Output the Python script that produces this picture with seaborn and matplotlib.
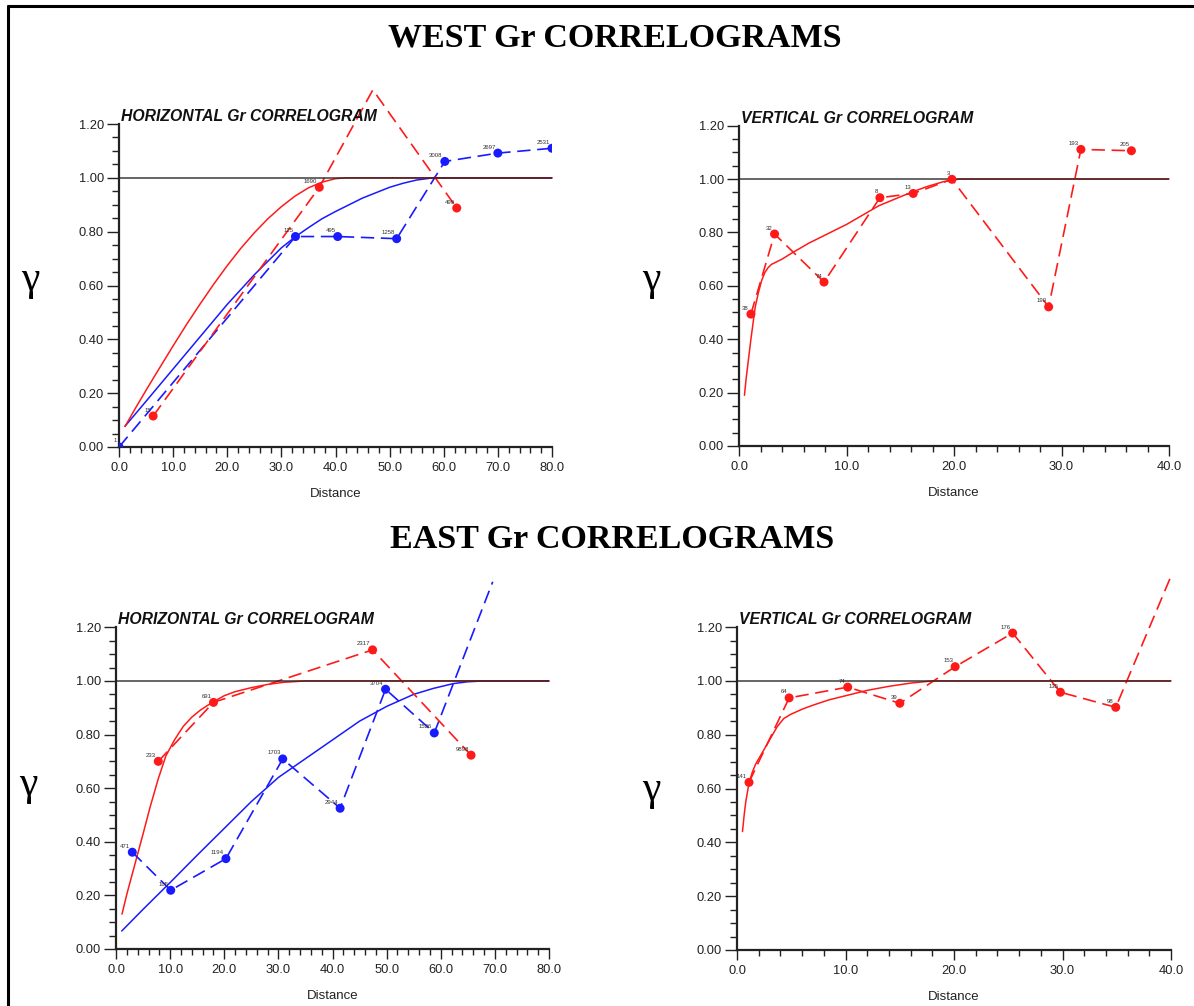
import numpy as np
import pandas as pd
import matplotlib
matplotlib.use("Agg")
import matplotlib.pyplot as plt
import seaborn as sns
from matplotlib.ticker import MultipleLocator, FormatStrFormatter
from matplotlib.lines import Line2D

# ---------------- data ----------------
# WEST - horizontal
wh_red_x = [6.3, 37.0, 46.9, 62.4]
wh_red_y = [0.115, 0.965, 1.327, 0.888]
wh_red_lab = ["15", "1690", "", "499"]
wh_blue_x = [0.0, 32.6, 40.4, 51.3, 60.2, 70.0, 80.0]
wh_blue_y = [0.0, 0.782, 0.782, 0.774, 1.061, 1.092, 1.110]
wh_blue_lab = ["1", "125", "495", "1258", "3008", "2697", "2531"]
wh_red_fit_x = [1.1, 3, 5, 7.5, 10, 12.5, 15, 17.5, 20, 22.5, 25, 27.5, 30, 32.5,
                35, 37.5, 40, 42, 80]
wh_red_fit_y = [0.076, 0.143, 0.211, 0.294, 0.376, 0.456, 0.532, 0.605, 0.674, 0.738,
                0.796, 0.848, 0.893, 0.932, 0.963, 0.984, 0.997, 1.0, 1.0]
wh_blue_fit_x = [1.1, 5, 10, 15, 20, 25, 30, 32.5, 35, 37.5, 40, 42.5, 45, 47.5,
                 50, 52.5, 55, 58, 80]
wh_blue_fit_y = [0.077, 0.17, 0.29, 0.41, 0.53, 0.64, 0.74, 0.78, 0.815, 0.848, 0.875,
                 0.90, 0.925, 0.945, 0.965, 0.98, 0.992, 1.0, 1.0]

# WEST - vertical
wv_red_x = [1.1, 3.3, 7.9, 13.1, 16.2, 19.8, 28.8, 31.8, 36.5]
wv_red_y = [0.494, 0.794, 0.614, 0.930, 0.946, 0.999, 0.521, 1.111, 1.106]
wv_red_lab = ["38", "32", "74", "8", "13", "3", "190", "193", "205"]
wv_fit_x = [0.5, 0.65, 0.8, 0.95, 1.1, 1.3, 1.5, 1.8, 2.1, 2.4, 2.7, 3.0, 4, 5, 6.5,
            8, 10, 11.5, 13, 14.5, 16, 17.5, 19, 20.5, 40]
wv_fit_y = [0.19, 0.25, 0.30, 0.35, 0.40, 0.46, 0.52, 0.575, 0.62, 0.65, 0.668, 0.68,
            0.70, 0.725, 0.76, 0.79, 0.83, 0.865, 0.90, 0.925, 0.95, 0.972, 0.99, 1.0, 1.0]

# EAST - horizontal
eh_red_x = [7.8, 18.0, 47.4, 65.6]
eh_red_y = [0.700, 0.920, 1.116, 0.723]
eh_red_lab = ["233", "691", "2317", "9898"]
eh_blue_x = [3.0, 10.1, 20.3, 30.8, 41.4, 49.8, 58.8, 69.6]
eh_blue_y = [0.361, 0.219, 0.337, 0.709, 0.525, 0.969, 0.806, 1.37]
eh_blue_lab = ["471", "105", "1194", "1703", "2944", "3704", "1526", ""]
eh_red_fit_x = [1.1, 2, 3, 4, 5, 6.3, 7.8, 9.2, 10.8, 12.4, 14, 15.5, 17, 18.5, 20,
                22, 25, 28, 31, 35, 80]
eh_red_fit_y = [0.13, 0.205, 0.28, 0.355, 0.43, 0.53, 0.635, 0.72, 0.78, 0.83, 0.865,
                0.89, 0.91, 0.928, 0.945, 0.96, 0.975, 0.987, 0.995, 1.0, 1.0]
eh_blue_fit_x = [1.05, 5, 10, 15, 20, 25, 30, 35, 40, 45, 50, 55, 58.6, 62.3, 65, 68, 80]
eh_blue_fit_y = [0.067, 0.148, 0.248, 0.35, 0.45, 0.55, 0.64, 0.71, 0.78, 0.85, 0.905,
                 0.95, 0.972, 0.99, 0.997, 1.0, 1.0]

# EAST - vertical
ev_red_x = [1.1, 4.8, 10.2, 15.0, 20.1, 25.4, 29.8, 34.9, 40.0]
ev_red_y = [0.623, 0.937, 0.977, 0.917, 1.053, 1.178, 0.958, 0.902, 1.39]
ev_red_lab = ["141", "64", "74", "39", "153", "176", "135", "98", ""]
ev_fit_x = [0.5, 0.65, 0.8, 1.1, 1.4, 1.7, 2.2, 2.7, 3.2, 3.7, 4.3, 4.9, 6, 7, 8.5,
            10, 12, 14, 16, 18, 40]
ev_fit_y = [0.44, 0.50, 0.55, 0.62, 0.66, 0.69, 0.725, 0.76, 0.795, 0.83, 0.86, 0.875,
            0.895, 0.91, 0.93, 0.945, 0.965, 0.98, 0.992, 1.0, 1.0]

RED = "#ff1a1a"
BLUE = "#1a1aff"
DASH = (0, (8.0, 4.0))

sns.set_style("ticks")
plt.rcParams["font.family"] = ["Liberation Sans", "DejaVu Sans"]

fig = plt.figure(figsize=(11.94, 10.06), dpi=100)


def make_axes(rect, xmax, title):
    ax = fig.add_axes(rect)
    ax.set_xlim(0, xmax)
    ax.set_ylim(0, 1.2)
    for s in ["top", "right"]:
        ax.spines[s].set_visible(False)
    for s in ["left", "bottom"]:
        ax.spines[s].set_linewidth(1.6)
        ax.spines[s].set_color("#222222")
    ax.xaxis.set_major_locator(MultipleLocator(10))
    ax.xaxis.set_minor_locator(MultipleLocator(2))
    ax.yaxis.set_major_locator(MultipleLocator(0.2))
    ax.yaxis.set_minor_locator(MultipleLocator(0.05))
    ax.xaxis.set_major_formatter(FormatStrFormatter("%.1f"))
    ax.yaxis.set_major_formatter(FormatStrFormatter("%.2f"))
    ax.tick_params(axis="y", which="major", length=9, width=1.0, direction="out",
                   pad=2, labelsize=9.3, colors="#222222", left=True)
    ax.tick_params(axis="y", which="minor", length=5, width=1.0, direction="out", left=True,
                   colors="#222222")
    ax.tick_params(axis="x", which="major", length=7, width=1.0, direction="out",
                   pad=4, labelsize=9.3, colors="#222222", bottom=True)
    ax.tick_params(axis="x", which="minor", length=4, width=1.0, direction="out", bottom=True,
                   colors="#222222")
    ax.text(0.004, 1.0, title, transform=ax.transAxes, ha="left", va="bottom",
            fontsize=11.3, fontweight="bold", fontstyle="italic", color="#111111")
    return ax


def draw_fit(ax, xs, ys, color):
    sns.lineplot(x=xs, y=ys, ax=ax, color=color, linewidth=1.1, sort=False,
                 estimator=None, clip_on=False)


def draw_exp(ax, xs, ys, labs, color):
    sns.lineplot(x=xs, y=ys, ax=ax, color=color, linewidth=1.2, sort=False,
                 estimator=None, linestyle=DASH, clip_on=False)
    sns.scatterplot(x=xs, y=ys, ax=ax, color=color, s=42, edgecolor="none", zorder=5)
    for x, y, lab in zip(xs, ys, labs):
        if lab and y <= 1.2:
            ax.annotate(lab, (x, y), xytext=(-1.5, 2.5), textcoords="offset points",
                        ha="right", va="bottom", fontsize=4.3, color="#333333")


def finish(ax):
    ax.axhline(1.0, color="#222222", linewidth=1.3, alpha=0.75, zorder=4)
    ax.set_xlabel("Distance", fontsize=9.5, labelpad=10, color="#222222")
    ax.set_ylabel("")


# WEST horizontal
ax1 = make_axes([0.0997, 0.5557, 0.3626, 0.3210], 80, "HORIZONTAL Gr CORRELOGRAM")
draw_fit(ax1, wh_blue_fit_x, wh_blue_fit_y, BLUE)
draw_fit(ax1, wh_red_fit_x, wh_red_fit_y, RED)
draw_exp(ax1, wh_blue_x, wh_blue_y, wh_blue_lab, BLUE)
draw_exp(ax1, wh_red_x, wh_red_y, wh_red_lab, RED)
finish(ax1)

# WEST vertical
ax2 = make_axes([0.6190, 0.5567, 0.3601, 0.3184], 40, "VERTICAL Gr CORRELOGRAM")
draw_fit(ax2, wv_fit_x, wv_fit_y, RED)
draw_exp(ax2, wv_red_x, wv_red_y, wv_red_lab, RED)
finish(ax2)

# EAST horizontal
ax3 = make_axes([0.0972, 0.0567, 0.3626, 0.3197], 80, "HORIZONTAL Gr CORRELOGRAM")
draw_fit(ax3, eh_blue_fit_x, eh_blue_fit_y, BLUE)
draw_fit(ax3, eh_red_fit_x, eh_red_fit_y, RED)
draw_exp(ax3, eh_blue_x, eh_blue_y, eh_blue_lab, BLUE)
draw_exp(ax3, eh_red_x, eh_red_y, eh_red_lab, RED)
finish(ax3)

# EAST vertical
ax4 = make_axes([0.6173, 0.0557, 0.3635, 0.3209], 40, "VERTICAL Gr CORRELOGRAM")
draw_fit(ax4, ev_fit_x, ev_fit_y, RED)
draw_exp(ax4, ev_red_x, ev_red_y, ev_red_lab, RED)
finish(ax4)

# headings
fig.text(0.515, 1 - 38 / 1006, "WEST Gr CORRELOGRAMS", ha="center", va="center",
         fontsize=24.5, fontweight="bold", family="Liberation Serif", color="black")
fig.text(0.513, 1 - 540 / 1006, "EAST Gr CORRELOGRAMS", ha="center", va="center",
         fontsize=24.5, fontweight="bold", family="Liberation Serif", color="black")

# gamma labels
for gx, gy in [(30, 280), (651, 280), (28, 785), (651, 790)]:
    fig.text(gx / 1194, 1 - gy / 1006, "γ", ha="center", va="center",
             fontsize=30, family="Liberation Serif", color="black")

# frame (left and top edges)
fig.add_artist(Line2D([8 / 1194, 8 / 1194], [0, 1 - 6 / 1006], transform=fig.transFigure,
                      color="black", linewidth=2.2))
fig.add_artist(Line2D([8 / 1194, 1], [1 - 6 / 1006, 1 - 6 / 1006], transform=fig.transFigure,
                      color="black", linewidth=2.2))

fig.savefig("out.png", dpi=100, facecolor="white")
